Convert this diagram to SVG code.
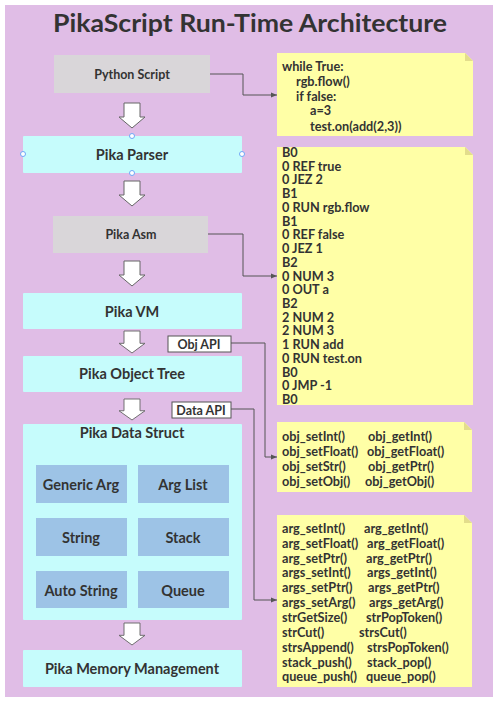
<svg xmlns="http://www.w3.org/2000/svg" width="500" height="702" viewBox="0 0 500 702">
<defs>
<style>
.t{font-family:Lato,"Open Sans","Liberation Sans",sans-serif;font-weight:bold;fill:#333;}
.c{text-anchor:middle;dominant-baseline:central;}
.gray{fill:#D9D6D9;}
.cyan{fill:#C6FCFC;}
.blue{fill:#9DC3E6;}
.note{fill:#FFFFA6;}
.fold{fill:#E3DD8C;}
.blk{fill:#fff;stroke:#666;stroke-width:1;}
.con{fill:none;stroke:#555;stroke-width:1;}
.lbl{fill:#fff;stroke:#555;stroke-width:1;}
.h{fill:#fff;stroke:#6FA8F7;stroke-width:1;}
.n{font-size:12.7px;}
</style>
<marker id="ah" viewBox="0 0 10 10" refX="10" refY="5" markerWidth="6" markerHeight="6" orient="auto" markerUnits="userSpaceOnUse">
<path d="M0,1 L10,5 L0,9 Z" fill="#555"/>
</marker>
<path id="blkarrow" d="M-8,0 H8 V14 H13 L0,25 L-13,14 H-8 Z"/>
</defs>
<rect x="0" y="0" width="500" height="702" fill="#fff"/>
<rect x="5" y="5" width="488" height="692" fill="#E0BDE6"/>
<text class="t c" x="250" y="22" font-size="25" textLength="394" lengthAdjust="spacingAndGlyphs">PikaScript Run-Time Architecture</text>

<g id="python-script"><rect class="gray" x="54" y="55" width="156" height="38"/><text class="t c" x="132" y="74" font-size="12.5">Python Script</text></g>
<g id="pika-parser"><rect class="cyan" x="23" y="136" width="219" height="37" rx="1"/><text class="t c" x="132" y="154" font-size="14.5">Pika Parser</text>
<circle class="h" cx="132" cy="136" r="2.5"/><circle class="h" cx="23" cy="154" r="2.5"/><circle class="h" cx="242" cy="154" r="2.5"/><circle class="h" cx="132" cy="173" r="2.5"/></g>
<g id="pika-asm"><rect class="gray" x="53" y="216" width="155" height="37"/><text class="t c" x="131" y="234" font-size="12.5">Pika Asm</text></g>
<g id="pika-vm"><rect class="cyan" x="23" y="293" width="219" height="36" rx="1"/><text class="t c" x="132" y="311" font-size="14.5">Pika VM</text></g>
<g id="pika-object-tree"><rect class="cyan" x="23" y="356" width="219" height="36" rx="1"/><text class="t c" x="132" y="373" font-size="14.5">Pika Object Tree</text></g>
<g id="pika-data-struct"><rect class="cyan" x="23" y="424" width="219" height="196" rx="1"/><text class="t c" x="132" y="432" font-size="14.5">Pika Data Struct</text></g>
<g id="generic-arg"><rect class="blue" x="36" y="465" width="91" height="38"/><text class="t c" x="81" y="484" font-size="14.5">Generic Arg</text></g>
<g id="arg-list"><rect class="blue" x="138" y="465" width="91" height="38"/><text class="t c" x="183" y="484" font-size="14.5">Arg List</text></g>
<g id="string"><rect class="blue" x="36" y="518" width="91" height="38"/><text class="t c" x="81" y="537" font-size="14.5">String</text></g>
<g id="stack"><rect class="blue" x="138" y="518" width="91" height="38"/><text class="t c" x="183" y="537" font-size="14.5">Stack</text></g>
<g id="auto-string"><rect class="blue" x="36" y="571" width="91" height="37"/><text class="t c" x="81" y="590" font-size="14.5">Auto String</text></g>
<g id="queue"><rect class="blue" x="138" y="571" width="91" height="37"/><text class="t c" x="183" y="590" font-size="14.5">Queue</text></g>
<g id="pika-memory-management"><rect class="cyan" x="23" y="650" width="219" height="37" rx="1"/><text class="t c" x="132" y="668" font-size="14.5">Pika Memory Management</text></g>

<g id="obj-api"><rect class="lbl" x="168" y="336" width="63" height="16"/><text class="t c" x="199" y="344" font-size="12.5">Obj API</text></g>
<g id="data-api"><rect class="lbl" x="172" y="402" width="59" height="16"/><text class="t c" x="201" y="410" font-size="12.5">Data API</text></g>

<g id="note-script">
<path class="note" d="M277,53 H465 L473,61 V136 H277 Z"/><path class="fold" d="M465,53 L473,61 H465 Z"/>
<g class="t n" dominant-baseline="central">
<text x="282" y="66">while True:</text>
<text x="296" y="81">rgb.flow()</text>
<text x="296" y="96">if false:</text>
<text x="310" y="110">a=3</text>
<text x="310" y="126">test.on(add(2,3))</text>
</g></g>

<g id="note-asm">
<path class="note" d="M277,147 H465 L473,155 V405 H277 Z"/><path class="fold" d="M465,147 L473,155 H465 Z"/>
<g class="t n" dominant-baseline="central">
<text x="282" y="152">B0</text>
<text x="282" y="165.7">0 REF true</text>
<text x="282" y="179.4">0 JEZ 2</text>
<text x="282" y="193.2">B1</text>
<text x="282" y="206.9">0 RUN rgb.flow</text>
<text x="282" y="220.6">B1</text>
<text x="282" y="234.3">0 REF false</text>
<text x="282" y="248">0 JEZ 1</text>
<text x="282" y="261.8">B2</text>
<text x="282" y="275.5">0 NUM 3</text>
<text x="282" y="289.2">0 OUT a</text>
<text x="282" y="302.9">B2</text>
<text x="282" y="316.6">2 NUM 2</text>
<text x="282" y="330.4">2 NUM 3</text>
<text x="282" y="344.1">1 RUN add</text>
<text x="282" y="357.8">0 RUN test.on</text>
<text x="282" y="371.5">B0</text>
<text x="282" y="385.2">0 JMP -1</text>
<text x="282" y="399">B0</text>
</g></g>

<g id="note-obj-api">
<path class="note" d="M277,422 H464 L472,430 V492 H277 Z"/><path class="fold" d="M464,422 L472,430 H464 Z"/>
<g class="t n" dominant-baseline="central">
<text x="282" y="436">obj_setInt()</text><text x="368" y="436">obj_getInt()</text>
<text x="282" y="451">obj_setFloat()</text><text x="367" y="451">obj_getFloat()</text>
<text x="282" y="466">obj_setStr()</text><text x="368" y="466">obj_getPtr()</text>
<text x="282" y="481">obj_setObj()</text><text x="365" y="481">obj_getObj()</text>
</g></g>

<g id="note-data-api">
<path class="note" d="M277,515 H464 L472,523 V687 H277 Z"/><path class="fold" d="M464,515 L472,523 H464 Z"/>
<g class="t n" dominant-baseline="central">
<text x="282" y="528">arg_setInt()</text><text x="364" y="528">arg_getInt()</text>
<text x="282" y="543">arg_setFloat()</text><text x="367" y="543">arg_getFloat()</text>
<text x="282" y="558">arg_setPtr()</text><text x="366" y="558">arg_getPtr()</text>
<text x="282" y="572">args_setInt()</text><text x="367" y="572">args_getInt()</text>
<text x="282" y="587">args_setPtr()</text><text x="368" y="587">args_getPtr()</text>
<text x="282" y="602">args_setArg()</text><text x="369" y="602">args_getArg()</text>
<text x="282" y="617">strGetSize()</text><text x="366" y="617">strPopToken()</text>
<text x="282" y="632">strCut()</text><text x="359" y="632">strsCut()</text>
<text x="282" y="647">strsAppend()</text><text x="367" y="647">strsPopToken()</text>
<text x="282" y="662">stack_push()</text><text x="367" y="662">stack_pop()</text>
<text x="282" y="676">queue_push()</text><text x="366" y="676">queue_pop()</text>
</g></g>

<g id="connectors">
<use href="#blkarrow" class="blk" x="132" y="103"/>
<use href="#blkarrow" class="blk" x="132" y="181"/>
<use href="#blkarrow" class="blk" x="132" y="261"/>
<use href="#blkarrow" class="blk" x="132" y="331" transform="translate(132 331) scale(1 0.88) translate(-132 -331)"/>
<use href="#blkarrow" class="blk" x="132" y="399" transform="translate(132 399) scale(1 0.84) translate(-132 -399)"/>
<use href="#blkarrow" class="blk" x="132" y="623" transform="translate(132 623) scale(1 0.88) translate(-132 -623)"/>
<path class="con" marker-end="url(#ah)" d="M210,74 H243 V95 H277"/>
<path class="con" marker-end="url(#ah)" d="M208,234 H243 V276 H277"/>
<path class="con" marker-end="url(#ah)" d="M231,343 H265 V457 H277"/>
<path class="con" marker-end="url(#ah)" d="M231,409 H254 V600 H277"/>
</g>
</svg>
